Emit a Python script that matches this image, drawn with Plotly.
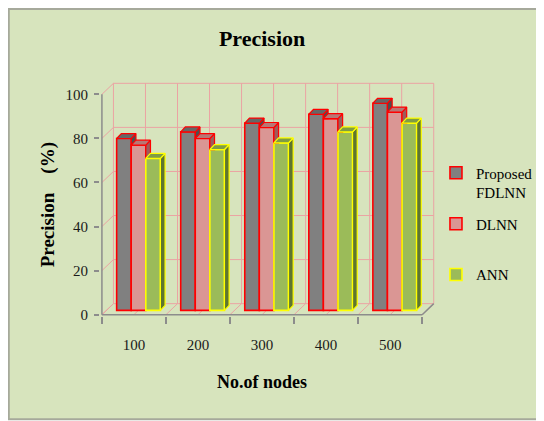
import plotly.graph_objects as go

# ---------------- data ----------------
categories = ["100", "200", "300", "400", "500"]
series_names = ["Proposed<br>FDLNN", "DLNN", "ANN"]
fdlnn = [78, 81, 85, 89, 94]
dlnn = [75, 78, 83, 87, 90]
ann = [69, 73, 76, 81, 85]
y_ticks = [0, 20, 40, 60, 80, 100]

# ---------------- styles ----------------
FONT = "Liberation Serif"
front_cols = ["#808080", "#DA9694", "#9BBB59"]
top_cols = ["#666666", "#B77775", "#7F9C45"]
side_cols = ["#4F4F4F", "#9E5C5A", "#5E7530"]
edge_cols = ["#FF0000", "#FF0000", "#FFFF00"]
offsets = [-0.27, -0.043, 0.185]
BAR_W = 0.228
BASE = 1.95          # bars stand slightly back on the floor
DX, DY = 0.073, 2.26  # bar depth (x units, y units)
DXW, DYW = 0.18, 5.0  # wall depth
GRID = "#EBA3A3"
AXC = "#8C8C8C"

# pixel geometry (page has an 8px body margin)
OFF = 8
W, H = 544, 421 - OFF
UX, UY = 64.1, 2.21
X0PX, Y0PX = 101.7 - OFF, 315.0 - OFF
xr = [-0.53, 4.5 + DXW + 0.02]
yr = [-0.6, 100 + DYW + 0.6]
l = X0PX - (-0.5 - xr[0]) * UX
pw = (xr[1] - xr[0]) * UX
r = W - l - pw
b = H - Y0PX - (0 - yr[0]) * UY
ph = (yr[1] - yr[0]) * UY
t = H - b - ph


def pxx(px):
    return (px - OFF - l) / pw


def pxy(py):
    return (H - b - (py - OFF)) / ph


series = [fdlnn, dlnn, ann]
xi = list(range(len(categories)))

fig = go.Figure()

# front faces
for s, vals in enumerate(series):
    fig.add_trace(go.Bar(
        x=xi, y=vals, base=BASE, width=BAR_W, offset=offsets[s],
        name=series_names[s],
        marker=dict(color=front_cols[s], line=dict(color=edge_cols[s], width=1.6)),
        legend=["legend", "legend2", "legend3"][s],
        hovertemplate="%{y}<extra></extra>",
    ))

# 3-D top and side faces
for s, vals in enumerate(series):
    tx, ty, sx, sy = [], [], [], []
    for i, v in zip(xi, vals):
        x_l = i + offsets[s]
        x_r = x_l + BAR_W
        top = BASE + v
        tx += [x_l, x_l + DX, x_r + DX, x_r, x_l, None]
        ty += [top, top + DY, top + DY, top, top, None]
        lo1, lo2 = BASE, BASE + DY
        if s < len(series) - 1:
            nt = BASE + series[s + 1][i]
            lo1, lo2 = max(lo1, nt), max(lo2, nt)
        if lo1 < top:
            sx += [x_r, x_r + DX, x_r + DX, x_r, x_r, None]
            sy += [lo1, lo2, top + DY, top, lo1, None]
    fig.add_trace(go.Scatter(x=sx, y=sy, mode="lines", fill="toself",
                             fillcolor=side_cols[s],
                             line=dict(color=edge_cols[s], width=1.2),
                             showlegend=False, hoverinfo="skip"))
    fig.add_trace(go.Scatter(x=tx, y=ty, mode="lines", fill="toself",
                             fillcolor=top_cols[s],
                             line=dict(color=edge_cols[s], width=1.2),
                             showlegend=False, hoverinfo="skip"))

# ---------------- shapes: panel, walls, floor ----------------
shapes = [dict(type="rect", xref="paper", yref="paper",
               x0=pxx(OFF + 0.5), x1=pxx(600), y0=pxy(420), y1=pxy(OFF + 0.5),
               fillcolor="#D7E4BD", line=dict(color="#A6A99B", width=2),
               layer="below")]
bounds = [k * 0.5 - 0.5 for k in range(11)]
for v in y_ticks:
    shapes.append(dict(type="line", xref="x", yref="y", x0=-0.5 + DXW, x1=4.5 + DXW,
                       y0=v + DYW, y1=v + DYW, line=dict(color=GRID, width=1), layer="below"))
    shapes.append(dict(type="line", xref="x", yref="y", x0=-0.5, x1=-0.5 + DXW,
                       y0=v, y1=v + DYW, line=dict(color=GRID, width=1), layer="below"))
for bb in bounds:
    shapes.append(dict(type="line", xref="x", yref="y", x0=bb + DXW, x1=bb + DXW,
                       y0=DYW, y1=100 + DYW, line=dict(color=GRID, width=1), layer="below"))
    shapes.append(dict(type="line", xref="x", yref="y", x0=bb, x1=bb + DXW,
                       y0=0, y1=DYW, line=dict(color=GRID, width=1), layer="below"))
# axis lines
shapes.append(dict(type="line", xref="x", yref="y", x0=-0.5, x1=-0.5, y0=0, y1=100,
                   line=dict(color=AXC, width=1.5), layer="below"))
shapes.append(dict(type="line", xref="x", yref="y", x0=-0.5, x1=4.5, y0=0, y1=0,
                   line=dict(color=AXC, width=1.5), layer="below"))
shapes.append(dict(type="line", xref="x", yref="y", x0=4.5, x1=4.5 + DXW, y0=0, y1=DYW,
                   line=dict(color=AXC, width=1.5), layer="below"))

annotations = [
    dict(text="<b>No.of nodes</b>", xref="paper", yref="paper", x=pxx(262), y=pxy(383),
         showarrow=False, font=dict(family=FONT, size=18, color="#000000"),
         xanchor="center", yanchor="middle"),
    dict(text="<b>Precision\u00a0\u00a0\u00a0 (%)</b>", xref="paper", yref="paper",
         x=pxx(48), y=pxy(205), textangle=-90, showarrow=False,
         font=dict(family=FONT, size=19, color="#000000"),
         xanchor="center", yanchor="middle"),
]

leg_common = dict(bgcolor="rgba(0,0,0,0)", borderwidth=0, xanchor="left",
                  yanchor="middle", valign="top",
                  font=dict(family=FONT, size=15, color="#000000"))
legend_x = pxx(436)

fig.update_layout(
    width=W, height=H,
    margin=dict(l=l, r=r, t=t, b=b, autoexpand=False),
    paper_bgcolor="#FFFFFF",
    plot_bgcolor="rgba(0,0,0,0)",
    barmode="overlay",
    title=dict(text="<b>Precision</b>", x=pxx(262), xref="paper", xanchor="center",
               y=1 - (38 - OFF) / H, yref="container", yanchor="middle",
               font=dict(family=FONT, size=22, color="#000000")),
    xaxis=dict(range=xr, showgrid=False, zeroline=False, showline=False,
               tickmode="array", tickvals=xi, ticktext=categories,
               ticks="outside", ticklen=7, tickcolor="rgba(0,0,0,0)",
               ticklabelstandoff=8,
               minor=dict(tickmode="array", tickvals=bounds[::2], ticks="outside",
                          ticklen=7, tickcolor=AXC, tickwidth=1.5, showgrid=False),
               tickfont=dict(family=FONT, size=15, color="#1A1A1A"), fixedrange=True),
    yaxis=dict(range=yr, showgrid=False, zeroline=False, showline=False,
               tickmode="array", tickvals=y_ticks,
               ticks="outside", ticklen=5, tickcolor=AXC, tickwidth=1.5,
               ticklabelstandoff=3,
               tickfont=dict(family=FONT, size=15, color="#1A1A1A"), fixedrange=True),
    shapes=shapes,
    annotations=annotations,
    legend=dict(x=legend_x, y=pxy(182.5), **leg_common),
    legend2=dict(x=legend_x, y=pxy(224), **leg_common),
    legend3=dict(x=legend_x, y=pxy(275), **leg_common),
    showlegend=True,
)

fig.write_html("out.html")
